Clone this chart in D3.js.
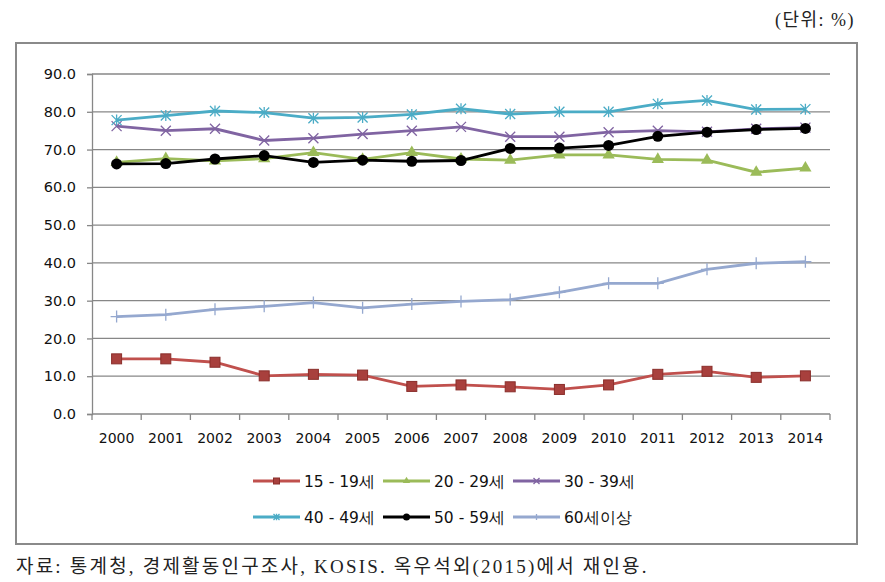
<!DOCTYPE html>
<html>
<head>
<meta charset="utf-8">
<script src="https://cdn.jsdelivr.net/npm/d3@7"></script>
<style>
  body { margin: 0; background: #fff; }
  svg text { font-family: "DejaVu Sans", Verdana, sans-serif; }
</style>
</head>
<body>
<div id="chart"></div>
<script>
// 연령별 경제활동참가율 (단위: %)
const years = ["2000","2001","2002","2003","2004","2005","2006","2007","2008","2009","2010","2011","2012","2013","2014"];
const age15_19 = [14.6, 14.6, 13.7, 10.1, 10.5, 10.3, 7.3, 7.7, 7.2, 6.5, 7.7, 10.5, 11.3, 9.7, 10.1];
const age20_29 = [66.6, 67.6, 67.0, 67.6, 69.2, 67.4, 69.2, 67.5, 67.2, 68.6, 68.6, 67.4, 67.2, 64.0, 65.1];
const age30_39 = [76.2, 75.0, 75.5, 72.4, 73.0, 74.1, 75.0, 76.0, 73.4, 73.4, 74.6, 75.0, 74.7, 75.5, 75.8];
const age40_49 = [77.8, 79.0, 80.2, 79.8, 78.3, 78.5, 79.3, 80.8, 79.4, 80.0, 80.0, 82.1, 83.0, 80.6, 80.7];
const age50_59 = [66.2, 66.3, 67.5, 68.4, 66.6, 67.2, 66.9, 67.1, 70.3, 70.4, 71.1, 73.5, 74.6, 75.3, 75.6];
const age60 = [25.8, 26.3, 27.7, 28.5, 29.5, 28.1, 29.1, 29.8, 30.3, 32.2, 34.6, 34.6, 38.3, 39.9, 40.3];
const yTicks = [0, 10, 20, 30, 40, 50, 60, 70, 80, 90];

const series = [
  {name: "15 - 19세", values: age15_19, color: "#C0504D", marker: "square"},
  {name: "20 - 29세", values: age20_29, color: "#9BBB59", marker: "triangle"},
  {name: "30 - 39세", values: age30_39, color: "#8064A2", marker: "x"},
  {name: "40 - 49세", values: age40_49, color: "#4BACC6", marker: "star"},
  {name: "50 - 59세", values: age50_59, color: "#000000", marker: "circle"},
  {name: "60세이상", values: age60, color: "#95A8CF", marker: "plus"}
];

const W = 885, H = 582;
const margin = {top: 74, right: 55, bottom: 168, left: 92};
const width = W - margin.left - margin.right;
const height = H - margin.top - margin.bottom;

const svg = d3.select("#chart").append("svg")
  .attr("width", W).attr("height", H);

// 단위 표시
svg.append("text")
  .attr("x", 855).attr("y", 26)
  .attr("text-anchor", "end")
  .style("font-family", "'Liberation Serif', 'Noto Sans CJK KR', serif")
  .style("font-size", "18px")
  .style("letter-spacing", "1.5px")
  .attr("fill", "#222")
  .text("(단위: %)");

// 바깥 테두리
svg.append("rect")
  .attr("x", 16).attr("y", 43)
  .attr("width", 841).attr("height", 501)
  .attr("fill", "none")
  .attr("stroke", "#8a8a8a")
  .attr("stroke-width", 2);

const g = svg.append("g")
  .attr("transform", "translate(" + margin.left + "," + margin.top + ")");

const xScale = d3.scaleBand().domain(years).range([0, width]);
const yScale = d3.scaleLinear().domain([0, 90]).range([height, 0]);

// 격자선
g.selectAll(".grid")
  .data(yTicks.filter(d => d > 0))
  .enter().append("line")
    .attr("x1", 0).attr("x2", width)
    .attr("y1", d => yScale(d)).attr("y2", d => yScale(d))
    .attr("stroke", "#878787")
    .attr("stroke-width", 1.3);

// y 축
const yAxis = d3.axisLeft(yScale).tickValues(yTicks)
  .tickFormat(d3.format(".1f")).tickSize(5).tickPadding(11);
const yG = g.append("g").call(yAxis);
yG.select(".domain").attr("stroke", "#878787").attr("stroke-width", 1.3);
yG.selectAll(".tick line").attr("stroke", "#878787").attr("stroke-width", 1.3);
yG.selectAll("text").style("font-size", "14.5px").attr("fill", "#111");

// x 축 (눈금은 범주 경계에)
const xG = g.append("g").attr("transform", "translate(0," + height + ")");
xG.append("line").attr("x1", 0).attr("x2", width)
  .attr("stroke", "#878787").attr("stroke-width", 1.3);
xG.selectAll(".xtick")
  .data(d3.range(years.length + 1))
  .enter().append("line")
    .attr("x1", i => i * xScale.step()).attr("x2", i => i * xScale.step())
    .attr("y1", 0).attr("y2", 6)
    .attr("stroke", "#878787").attr("stroke-width", 1.3);
xG.selectAll(".xlabel")
  .data(years)
  .enter().append("text")
    .attr("x", d => xScale(d) + xScale.bandwidth() / 2)
    .attr("y", 29)
    .attr("text-anchor", "middle")
    .style("font-size", "14px")
    .attr("fill", "#111")
    .text(d => d);

const cx = (d, i) => xScale(years[i]) + xScale.bandwidth() / 2;
const lineGenerator = d3.line().x(cx).y(d => yScale(d));

function drawMarker(sel, type, color, s) {
  if (type === "square") {
    sel.append("rect").attr("x", -s / 2).attr("y", -s / 2).attr("width", s).attr("height", s)
      .attr("fill", "#A8403D").attr("stroke", "#8A2E2B").attr("stroke-width", 1);
  } else if (type === "circle") {
    sel.append("circle").attr("r", s / 2 + 0.5).attr("fill", "#000");
  } else if (type === "triangle") {
    sel.append("path").attr("d", d3.symbol(d3.symbolTriangle, s * s * 0.65)())
      .attr("fill", color);
  } else if (type === "x") {
    const h = s / 2;
    sel.append("path").attr("d", "M" + -h + "," + -h + "L" + h + "," + h + "M" + -h + "," + h + "L" + h + "," + -h)
      .attr("stroke", color).attr("stroke-width", 1.3);
  } else if (type === "star") {
    const h = s / 2;
    sel.append("path").attr("d", "M" + -h + "," + -h + "L" + h + "," + h + "M" + -h + "," + h + "L" + h + "," + -h + "M0," + -h * 1.1 + "L0," + h * 1.1)
      .attr("stroke", color).attr("stroke-width", 1.3);
  } else if (type === "plus") {
    const h = s / 2;
    sel.append("path").attr("d", "M0," + -h + "L0," + h + "M" + -h + ",0L" + h + ",0")
      .attr("stroke", color).attr("stroke-width", 1.3);
  }
}

series.forEach(function(sr) {
  g.append("path")
    .attr("d", lineGenerator(sr.values))
    .style("stroke", sr.color)
    .style("stroke-width", "2.8px")
    .style("fill", "none");
  sr.values.forEach(function(v, i) {
    const m = g.append("g").attr("transform", "translate(" + cx(v, i) + "," + yScale(v) + ")");
    drawMarker(m, sr.marker, sr.color, sr.marker === "plus" ? 12 : 10);
  });
});

// 범례
const legend = svg.append("g");
series.forEach(function(sr, i) {
  const col = i % 3, row = Math.floor(i / 3);
  const lx = 253 + col * 130, ly = 481 + row * 36;
  const item = legend.append("g").attr("transform", "translate(" + lx + "," + ly + ")");
  item.append("line").attr("x1", 0).attr("x2", 47).attr("y1", 0).attr("y2", 0)
    .attr("stroke", sr.color).attr("stroke-width", 2.8);
  const m = item.append("g").attr("transform", "translate(23.5,0)");
  drawMarker(m, sr.marker, sr.color, 6);
  item.append("text").attr("x", 51).attr("y", 6)
    .style("font-size", "15.5px").attr("fill", "#111")
    .text(sr.name);
});

// 자료 출처
svg.append("text")
  .attr("x", 16).attr("y", 573)
  .style("font-family", "'Liberation Serif', 'Noto Sans CJK KR', serif")
  .style("font-size", "19px")
  .style("letter-spacing", "2.2px")
  .attr("fill", "#222")
  .text("자료: 통계청, 경제활동인구조사, KOSIS. 옥우석외(2015)에서 재인용.");
</script>
</body>
</html>
